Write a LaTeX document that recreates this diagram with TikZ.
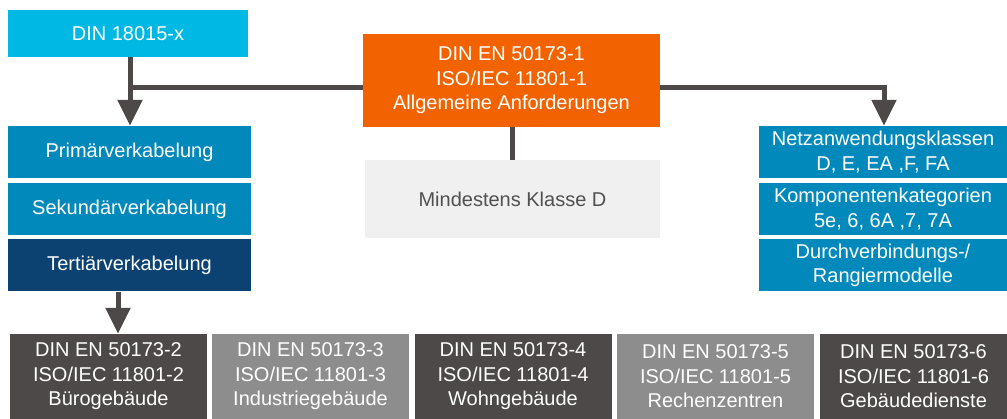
\documentclass[tikz,border=0pt]{standalone}
\usepackage{fontspec}
\setmainfont{Liberation Sans}
\definecolor{dincyan}{RGB}{0, 184, 228}
\definecolor{dinorange}{RGB}{242, 99, 0}
\definecolor{cablblue}{RGB}{0, 137, 186}
\definecolor{cabldark}{RGB}{12, 66, 113}
\definecolor{normdark}{RGB}{77, 73, 72}
\definecolor{normlight}{RGB}{141, 141, 141}
\definecolor{minfill}{RGB}{240, 240, 240}
\definecolor{mintext}{RGB}{80, 80, 80}
\usetikzlibrary{arrows.meta}
\newcommand{\boxfont}{\fontsize{20}{24.5}\selectfont}
\tikzset{
    basebox/.style={rectangle, inner sep=0pt, align=center, text=white, font=\boxfont},
    topbox/.style={basebox, fill=dincyan, minimum width=240pt, minimum height=47pt},
    mainbox/.style={basebox, fill=dinorange, minimum width=297pt, minimum height=93pt},
    cablebox/.style={basebox, fill=cablblue, minimum width=243pt, minimum height=52pt},
    classbox/.style={basebox, fill=cablblue, minimum width=248pt, minimum height=52pt},
    minbox/.style={basebox, fill=minfill, text=mintext, minimum width=295pt, minimum height=78pt},
    partbox/.style={basebox, fill=normdark, minimum width=197pt, minimum height=85pt},
    arrow/.style={-{Triangle[length=26pt, width=24pt]}, line width=5pt, normdark},
    link/.style={line width=5pt, normdark},
}

\begin{document}
\begin{tikzpicture}[x=1pt, y=-1pt]
    \useasboundingbox (0,0) rectangle (1007,419);

    \node[topbox] (din) at (128, 33.5) {DIN 18015-x};
    \node[mainbox] (allg) at (511.5, 80.5) {DIN EN 50173-1\\ISO/IEC 11801-1\\Allgemeine Anforderungen};
    \node[minbox] (mind) at (512.5, 199) {Mindestens Klasse D};

    \node[cablebox] (prim) at (129.5, 152) {Primärverkabelung};
    \node[cablebox] (sek) at (129.5, 209) {Sekundärverkabelung};
    \node[cablebox, fill=cabldark] (tert) at (129.5, 265.5) {Tertiärverkabelung};

    \node[classbox] (netz) at (883, 152) {Netzanwendungsklassen\\D, E, EA ,F, FA};
    \node[classbox] (komp) at (883, 209) {Komponentenkategorien\\5e, 6, 6A ,7, 7A};
    \node[classbox] (rang) at (883, 265.5) {Durchverbindungs-/\\Rangiermodelle};

    \node[partbox] (buero) at (108.5, 376.5) {DIN EN 50173-2\\ISO/IEC 11801-2\\Bürogebäude};
    \node[partbox, fill=normlight] (indu) at (310.5, 376.5) {DIN EN 50173-3\\ISO/IEC 11801-3\\Industriegebäude};
    \node[partbox] (wohn) at (513, 376.5) {DIN EN 50173-4\\ISO/IEC 11801-4\\Wohngebäude};
    \node[partbox, fill=normlight] (rech) at (715.5, 376.5) {DIN EN 50173-5\\ISO/IEC 11801-5\\Rechenzentren};
    \node[partbox, minimum width=187pt] (geb) at (913.5, 376.5) {DIN EN 50173-6\\ISO/IEC 11801-6\\Gebäudedienste};

    \coordinate (lj) at (130, 88);
    \coordinate (rj) at (884, 88);

    \draw[arrow] (din.south -| lj) -- (lj |- prim.north);
    \draw[link] (allg.west |- lj) -- ([xshift=-2.5pt]lj);
    \draw[arrow] (allg.east |- rj) -- (rj) -- (rj |- netz.north);
    \draw[link] (allg.south -| mind.north) -- (mind.north);
    \draw[arrow] ([xshift=-11.5pt]tert.south) -- ([xshift=-11.5pt]tert.south |- buero.north);
\end{tikzpicture}
\end{document}
